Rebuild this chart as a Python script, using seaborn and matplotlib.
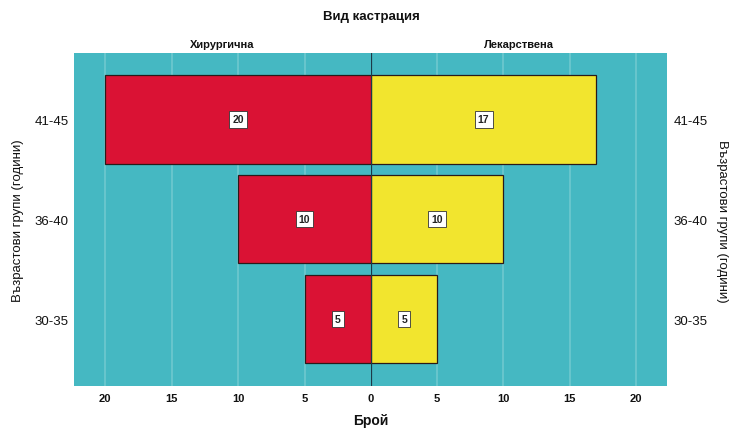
import matplotlib
matplotlib.use("Agg")
import matplotlib.pyplot as plt
import seaborn as sns
import pandas as pd

# Age groups, top to bottom, and counts per castration type
age_groups = ["41-45", "36-40", "30-35"]
surgical = [20, 10, 5]
medical = [17, 10, 5]
panel_titles = ["Хирургична", "Лекарствена"]
x_ticks = [0, 5, 10, 15, 20]

sns.set_theme(style="white")
plt.rcParams["font.family"] = ["Liberation Sans Narrow", "Liberation Sans", "DejaVu Sans"]
plt.rcParams["text.color"] = "#111111"
plt.rcParams["xtick.color"] = "#111111"
plt.rcParams["ytick.color"] = "#111111"

teal = "#45B8C2"
grid_col = "#72C9D0"
red = "#DA1234"
yellow = "#F2E52E"

W, H = 733, 431
fig = plt.figure(figsize=(W / 100, H / 100), dpi=100)

left_px, mid_px, right_px = 74, 371, 667
top_px, bot_px = 54, 387
ax_l = fig.add_axes([left_px / W, 1 - bot_px / H, (mid_px - left_px) / W, (bot_px - top_px) / H])
ax_r = fig.add_axes([mid_px / W, 1 - bot_px / H, (right_px - mid_px) / W, (bot_px - top_px) / H])

df_l = pd.DataFrame({"age": age_groups, "count": surgical})
df_r = pd.DataFrame({"age": age_groups, "count": medical})

xmax = 22.35
for ax, df, col in [(ax_l, df_l, red), (ax_r, df_r, yellow)]:
    ax.set_facecolor(teal)
    for t in x_ticks[1:]:
        ax.axvline(t, color=grid_col, lw=1.1, zorder=0)
    sns.barplot(data=df, x="count", y="age", order=age_groups, orient="h",
                color=col, width=0.885, edgecolor="#2a1a1a", linewidth=0.9,
                saturation=1, ax=ax, zorder=2)
    ax.set_ylim(2.67, -0.665)
    for i, v in enumerate(df["count"]):
        ax.text(v / 2, i, str(v), ha="center", va="center", fontsize=7.5,
                fontweight="bold", color="#222222", zorder=5,
                bbox=dict(boxstyle="square,pad=0.3", fc="white", ec="#333333", lw=0.6))
    ax.set_xticks(x_ticks)
    ax.set_xticklabels([str(t) for t in x_ticks], fontsize=8, fontweight="bold")
    ax.tick_params(axis="x", length=0, pad=5)
    ax.set_xlabel("")
    ax.set_ylabel("")
    for s in ax.spines.values():
        s.set_visible(False)

ax_l.set_xlim(xmax, 0)
ax_r.set_xlim(0, xmax)
ax_r.set_xticks(x_ticks[1:])
ax_r.set_xticklabels([str(t) for t in x_ticks[1:]], fontsize=8, fontweight="bold")

# Central divider
ax_r.axvline(0, color="#1d3a48", lw=1.6, zorder=4)

# Age group labels on both sides
ax_l.set_yticks(range(len(age_groups)))
ax_l.set_yticklabels(age_groups, fontsize=9.5)
ax_l.tick_params(axis="y", length=0, pad=4)
ax_r.yaxis.tick_right()
ax_r.set_yticks(range(len(age_groups)))
ax_r.set_yticklabels(age_groups, fontsize=9.5)
ax_r.tick_params(axis="y", length=0, pad=5)

ylab = "Възрастови групи (години)"
fig.text(18 / W, 1 - 221 / H, ylab, rotation=90, ha="center", va="center", fontsize=9.5)
fig.text(722 / W, 1 - 221 / H, ylab, rotation=-90, ha="center", va="center", fontsize=9.5)

fig.text(222 / W, 1 - 45 / H, panel_titles[0], ha="center", va="center", fontsize=8, fontweight="bold")
fig.text(519 / W, 1 - 45 / H, panel_titles[1], ha="center", va="center", fontsize=8, fontweight="bold")
fig.text(371 / W, 1 - 17 / H, "Вид кастрация", ha="center", va="center", fontsize=9.5, fontweight="bold")
fig.text(371 / W, 1 - 421 / H, "Брой", ha="center", va="center", fontsize=10, fontweight="bold")

fig.savefig("out.png", dpi=100, facecolor="white")
